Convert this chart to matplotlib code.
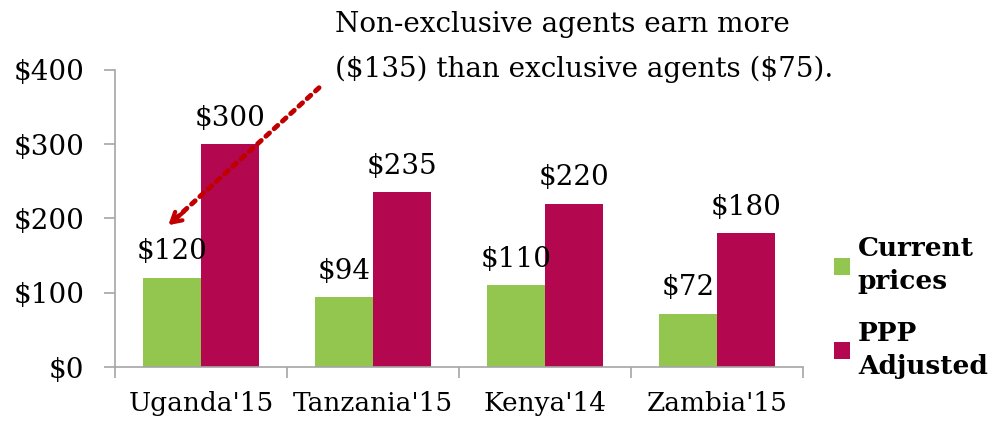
import numpy as np
import matplotlib.pyplot as plt

# data
countries = ["Uganda'15", "Tanzania'15", "Kenya'14", "Zambia'15"]
current_prices = [120, 94, 110, 72]
ppp_adjusted = [300, 235, 220, 180]
y_ticks = [0, 100, 200, 300, 400]

green = '#92c64e'
magenta = '#b3074f'
grey = '#a6a6a6'

plt.rcParams['font.family'] = ['DejaVu Serif']
plt.rcParams['text.parse_math'] = False

fig = plt.figure(figsize=(10.08, 4.21), dpi=100)
ax = fig.add_axes([0.114, 0.128, 0.683, 0.706])

x = np.arange(len(countries))
w = 0.337
b1 = ax.bar(x - w / 2, current_prices, w, color=green, label='Current\nprices')
b2 = ax.bar(x + w / 2, ppp_adjusted, w, color=magenta, label='PPP\nAdjusted')

for bars, vals in [(b1, current_prices), (b2, ppp_adjusted)]:
    for r, v in zip(bars, vals):
        ax.annotate(f'${v}', (r.get_x() + r.get_width() / 2, v),
                    xytext=(0, 9), textcoords='offset points',
                    ha='center', va='bottom', fontsize=20)

ax.set_xlim(-0.5, len(countries) - 0.5)
ax.set_ylim(0, 400)
ax.set_yticks(y_ticks)
ax.set_yticklabels([f'${t}' for t in y_ticks], fontsize=20)

# category labels centred, tick marks on the boundaries
ax.set_xticks(np.arange(len(countries) + 1) - 0.5)
ax.set_xticklabels([])
ax.set_xticks(x, minor=True)
ax.set_xticklabels(countries, minor=True, fontsize=19)
ax.tick_params(axis='x', which='minor', length=0, pad=17)
ax.tick_params(axis='x', which='major', length=8, color=grey, width=1.2)
ax.tick_params(axis='y', length=8, color=grey, width=1.2, pad=14)

for s in ['top', 'right']:
    ax.spines[s].set_visible(False)
for s in ['left', 'bottom']:
    ax.spines[s].set_color(grey)
    ax.spines[s].set_linewidth(1.2)

leg = ax.legend(loc='center left', bbox_to_anchor=(1.01, 0.20), frameon=False,
                prop={'weight': 'bold', 'size': 19}, handlelength=0.6,
                handleheight=0.6, handletextpad=0.3, labelspacing=1.0)
for t in leg.get_texts():
    t.set_linespacing(1.4)

# callout
fig.text(0.332, 0.975, 'Non-exclusive agents earn more\n($135) than exclusive agents ($75).',
         fontsize=20, va='top', ha='left', linespacing=1.85)
ax.annotate('', xy=(-0.17, 195), xytext=(0.686, 376),
            arrowprops=dict(arrowstyle='-', linestyle=(0, (1, 1.3)), lw=3.5,
                            color='#c00000', shrinkA=0, shrinkB=0))
ax.annotate('', xy=(-0.19, 191), xytext=(-0.10, 209),
            arrowprops=dict(arrowstyle='->,head_length=0.7,head_width=0.4', lw=3,
                            color='#c00000', shrinkA=0, shrinkB=0))

fig.savefig('out.png', dpi=100)
